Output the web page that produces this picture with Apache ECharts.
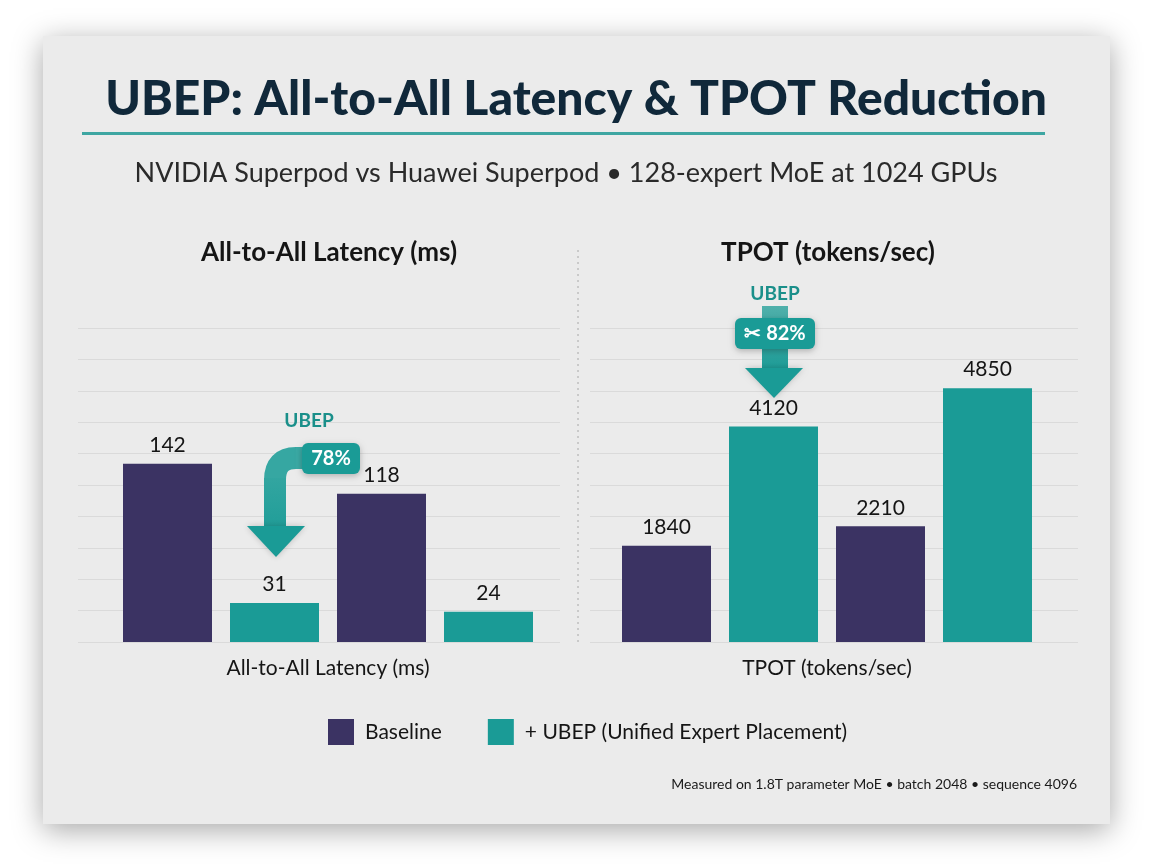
<!DOCTYPE html>
<html>
<head>
<meta charset="utf-8">
<title>UBEP: All-to-All Latency &amp; TPOT Reduction</title>
<script src="https://cdn.jsdelivr.net/npm/echarts@6/dist/echarts.min.js"></script>
<style>
  html, body { margin: 0; padding: 0; background: #fff; }
  #chart { width: 1152px; height: 864px; }
</style>
</head>
<body>
<div id="chart"></div>
<script>
// bars: NVIDIA baseline, NVIDIA + UBEP, Huawei baseline, Huawei + UBEP
const barCategories = ['NVIDIA Baseline', 'NVIDIA + UBEP', 'Huawei Baseline', 'Huawei + UBEP']
const latencyBaseline = [142, null, 118, null]
const latencyUbep = [null, 31, null, 24]
const tpotBaseline = [1840, null, 2210, null]
const tpotUbep = [null, 4120, null, 4850]
const seriesNames = ['Baseline', '+ UBEP (Unified Expert Placement)']
const latencyReduction = '78%'
const tpotGain = '82%'

const BASE = '#3b3363'
const TEAL = '#1a9b96'
const FONT = 'Lato, "Noto Sans", sans-serif'

let chart = echarts.init(document.getElementById('chart'))

function barSeries (name, data, axis, color) {
  return {
    name: name,
    type: 'bar',
    xAxisIndex: axis,
    yAxisIndex: axis,
    data: data,
    barWidth: 89,
    barGap: '-100%',
    itemStyle: { color: color },
    label: {
      show: true,
      position: 'top',
      distance: 8,
      fontSize: 21,
      fontFamily: FONT,
      color: '#151515'
    }
  }
}

function catAxis (grid, name) {
  return {
    gridIndex: grid,
    type: 'category',
    data: barCategories,
    axisLine: { show: false },
    axisTick: { show: false },
    axisLabel: { show: false },
    name: name,
    nameLocation: 'middle',
    nameGap: 16,
    nameTextStyle: { fontSize: 21, fontFamily: FONT, color: '#151515' }
  }
}

function valAxis (grid, max, interval, lines) {
  return {
    gridIndex: grid,
    type: 'value',
    min: 0,
    max: max,
    interval: interval,
    axisLine: { show: false },
    axisTick: { show: false },
    axisLabel: { show: false },
    splitLine: { show: lines, lineStyle: { color: '#dadada', width: 1 } }
  }
}

function txt (x, y, text, font, fill, align, z) {
  return {
    type: 'text',
    x: x,
    y: y,
    z: z || 50,
    style: {
      text: text,
      font: font,
      fill: fill,
      align: align || 'center',
      verticalAlign: 'middle',
      textAlign: align || 'center',
      textVerticalAlign: 'middle'
    }
  }
}

function arrowLine (shape, type, stroke) {
  return {
    type: type, z: 99,
    shape: shape,
    style: { fill: 'none', stroke: stroke, lineWidth: 22 }
  }
}

let graphics = [
  // card
  {
    type: 'rect', z: -10, silent: true,
    shape: { x: 43, y: 36, width: 1067, height: 788 },
    style: { fill: '#ebebeb', shadowBlur: 28, shadowOffsetY: 6, shadowColor: 'rgba(0,0,0,0.35)' }
  },
  txt(576, 100, 'UBEP: All-to-All Latency & TPOT Reduction', '900 48px ' + FONT, '#10283a'),
  { type: 'rect', shape: { x: 82, y: 132, width: 963, height: 3 }, style: { fill: '#3ea6a2' } },
  txt(566, 173, 'NVIDIA Superpod vs Huawei Superpod \u2022 128-expert MoE at 1024 GPUs', '27px ' + FONT, '#2a2a2a'),
  txt(329, 253, 'All-to-All Latency (ms)', 'bold 26px ' + FONT, '#151515'),
  txt(828, 253, 'TPOT (tokens/sec)', 'bold 26px ' + FONT, '#151515'),
  {
    type: 'line',
    shape: { x1: 578, y1: 250, x2: 578, y2: 642 },
    style: { stroke: '#a8a8a8', lineWidth: 1, lineDash: [2, 4] }
  },
  txt(1077, 784, 'Measured on 1.8T parameter MoE \u2022 batch 2048 \u2022 sequence 4096', '14px ' + FONT, '#1a1a1a', 'right'),

  // left annotation: curved arrow into the UBEP bar
  txt(309, 421, 'UBEP', 'bold 19px ' + FONT, '#1a8f8a', 'center', 100),
  arrowLine({ x1: 308, y1: 458, x2: 295, y2: 458 }, 'line', '#3aa9a4'),
  arrowLine({ x1: 296, y1: 458, x2: 275, y2: 480, cpx1: 275, cpy1: 458 }, 'bezierCurve', '#36a7a2'),
  arrowLine({ x1: 275, y1: 478, x2: 275, y2: 528 }, 'line',
    new echarts.graphic.LinearGradient(0, 0, 0, 1, [
      { offset: 0, color: '#36a7a2' },
      { offset: 1, color: '#1d9c97' }
    ])),
  {
    type: 'polygon', z: 99,
    shape: { points: [[247, 526], [305, 526], [276, 557]] },
    style: { fill: TEAL, shadowBlur: 6, shadowColor: 'rgba(0,0,0,0.2)' }
  },
  {
    type: 'rect', z: 100,
    shape: { x: 302, y: 443, width: 58, height: 31, r: 6 },
    style: { fill: TEAL, shadowBlur: 6, shadowOffsetY: 2, shadowColor: 'rgba(0,0,0,0.25)' }
  },
  txt(331, 459, latencyReduction, 'bold 20px ' + FONT, '#ffffff', 'center', 101),

  // right annotation: straight arrow into the UBEP bar
  txt(775, 294, 'UBEP', 'bold 19px ' + FONT, '#1a8f8a', 'center', 100),
  {
    type: 'rect', z: 99,
    shape: { x: 762, y: 306, width: 26, height: 64 },
    style: {
      fill: new echarts.graphic.LinearGradient(0, 0, 0, 1, [
        { offset: 0, color: '#4fb0ab' },
        { offset: 1, color: '#1d9c97' }
      ])
    }
  },
  {
    type: 'polygon', z: 99,
    shape: { points: [[745, 368], [803, 368], [774, 398]] },
    style: { fill: TEAL, shadowBlur: 6, shadowColor: 'rgba(0,0,0,0.2)' }
  },
  {
    type: 'rect', z: 100,
    shape: { x: 735, y: 318, width: 80, height: 31, r: 6 },
    style: { fill: TEAL, shadowBlur: 6, shadowOffsetY: 2, shadowColor: 'rgba(0,0,0,0.25)' }
  },
  txt(775, 334, '\u2702 ' + tpotGain, 'bold 20px ' + FONT, '#ffffff', 'center', 101)
]

let options = {
  backgroundColor: '#ffffff',
  animation: false,
  grid: [
    { left: 114, width: 428, top: 328, bottom: 222 },
    { left: 613, width: 428, top: 328, bottom: 222 },
    { left: 78, width: 482, top: 328, bottom: 222 },
    { left: 590, width: 488, top: 328, bottom: 222 }
  ],
  xAxis: [
    catAxis(0, 'All-to-All Latency (ms)'),
    catAxis(1, 'TPOT (tokens/sec)'),
    { gridIndex: 2, type: 'value', min: 0, max: 1, show: false },
    { gridIndex: 3, type: 'value', min: 0, max: 1, show: false }
  ],
  yAxis: [
    valAxis(0, 250, 25, false),
    valAxis(1, 6000, 600, false),
    valAxis(2, 10, 1, true),
    valAxis(3, 10, 1, true)
  ],
  legend: {
    left: 323,
    top: 714,
    icon: 'rect',
    itemWidth: 26,
    itemHeight: 26,
    itemGap: 46,
    textStyle: { fontSize: 21, fontFamily: FONT, color: '#151515', padding: [0, 0, 0, 6] },
    data: seriesNames
  },
  series: [
    barSeries(seriesNames[0], latencyBaseline, 0, BASE),
    barSeries(seriesNames[1], latencyUbep, 0, TEAL),
    barSeries(seriesNames[0], tpotBaseline, 1, BASE),
    barSeries(seriesNames[1], tpotUbep, 1, TEAL)
  ],
  graphic: { elements: graphics }
}

chart.setOption(options)
</script>
</body>
</html>
